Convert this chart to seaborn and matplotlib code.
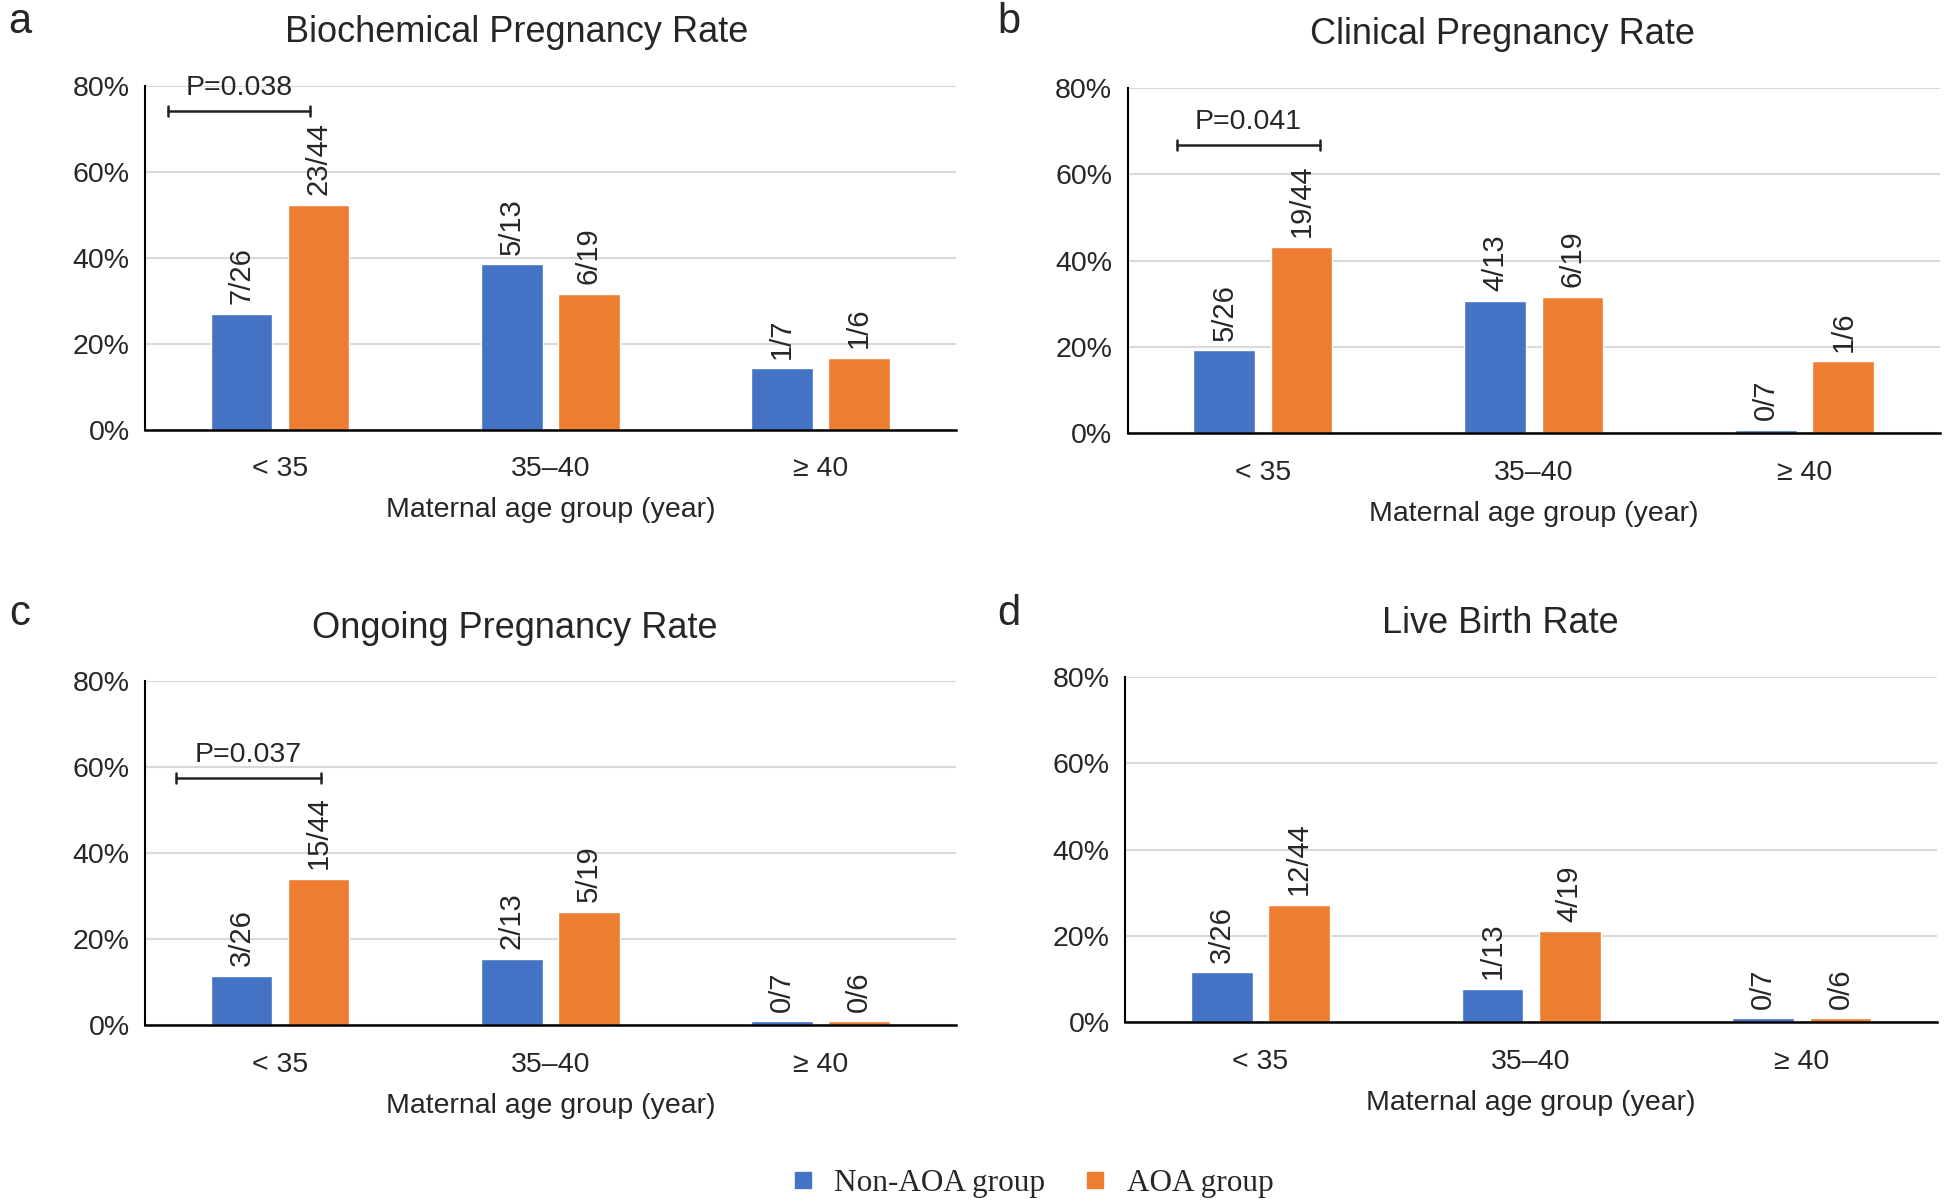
import numpy as np
import pandas as pd
import matplotlib
matplotlib.use("Agg")
import matplotlib.pyplot as plt
import seaborn as sns
from matplotlib.ticker import PercentFormatter
from matplotlib.lines import Line2D

# data: counts
ages = ['< 35', '35\u201340', '\u2265 40']
groups = ['Non-AOA group', 'AOA group']
titles = ['Biochemical Pregnancy Rate', 'Clinical Pregnancy Rate',
          'Ongoing Pregnancy Rate', 'Live Birth Rate']
letters = ['a', 'b', 'c', 'd']
denom_non = [26, 13, 7]
denom_aoa = [44, 19, 6]
num_non = [[7, 5, 1], [5, 4, 0], [3, 2, 0], [3, 1, 0]]
num_aoa = [[23, 6, 1], [19, 6, 1], [15, 5, 0], [12, 4, 0]]
p_text = ['P=0.038', 'P=0.041', 'P=0.037', None]
p_span = [(-0.415, 0.11), (-0.317, 0.211), (-0.387, 0.152), None]
p_line_y = [0.742, 0.668, 0.576, None]

blue = '#4472C4'
orange = '#ED7D31'

sns.set_style('white')
plt.rcParams['font.family'] = ['Liberation Sans', 'DejaVu Sans']

fig = plt.figure(figsize=(19.44, 12.04), dpi=100)

# axes boxes [left, bottom, width, height] in figure fractions
boxes = [[0.0746, 0.643, 0.417, 0.2857],
         [0.580, 0.640, 0.418, 0.287],
         [0.0746, 0.1485, 0.417, 0.2855],
         [0.5786, 0.151, 0.418, 0.2867]]
title_pos = [(0.266, 0.973), (0.773, 0.971), (0.265, 0.478), (0.772, 0.482)]
letter_pos = [(0.004, 0.982), (0.513, 0.982), (0.005, 0.49), (0.513, 0.49)]

for i in range(4):
    ax = fig.add_axes(boxes[i])
    rows = []
    for j, a in enumerate(ages):
        rows.append([a, groups[0], num_non[i][j], denom_non[j]])
        rows.append([a, groups[1], num_aoa[i][j], denom_aoa[j]])
    df = pd.DataFrame(rows, columns=['age', 'group', 'n', 'd'])
    df['rate'] = df['n'] / df['d']
    # zero rates are drawn as a thin sliver, as in the source
    df['shown'] = df['rate'].clip(lower=0.009)

    sns.barplot(data=df, x='age', y='shown', hue='group', order=ages,
                hue_order=groups, palette=[blue, orange], width=0.57,
                gap=0.2, saturation=1, legend=False, errorbar=None, ax=ax)

    for k, cont in enumerate(ax.containers):
        sub = df[df['group'] == groups[k]]
        labels = [f'{n}/{d}' for n, d in zip(sub['n'], sub['d'])]
        ax.bar_label(cont, labels=labels, rotation=90, padding=7, fontsize=21)

    ax.set_ylim(0, 0.8)
    ax.set_xlim(-0.5, 2.5)
    ax.set_yticks([0, 0.2, 0.4, 0.6, 0.8])
    ax.yaxis.set_major_formatter(PercentFormatter(1.0, decimals=0))
    ax.grid(axis='y', color='#d9d9d9', lw=1.5)
    ax.set_axisbelow(True)
    for s in ['top', 'right']:
        ax.spines[s].set_visible(False)
    ax.spines['left'].set_color('black')
    ax.spines['bottom'].set_color('black')
    ax.spines['left'].set_linewidth(1.5)
    ax.spines['bottom'].set_linewidth(1.8)
    ax.tick_params(axis='y', length=6, width=1.2, color='black', labelsize=20.5, pad=5)
    ax.tick_params(axis='x', length=0, labelsize=20.5, pad=19)
    ax.set_xlabel('Maternal age group (year)', fontsize=20.5, labelpad=11)
    ax.set_ylabel('')

    if p_text[i] is not None:
        x0, x1 = p_span[i]
        yl = p_line_y[i]
        ax.plot([x0, x1], [yl, yl], color='#222222', lw=1.8)
        ax.plot([x0, x0], [yl - 0.012, yl + 0.012], color='#222222', lw=1.8)
        ax.plot([x1, x1], [yl - 0.012, yl + 0.012], color='#222222', lw=1.8)
        ax.text((x0 + x1) / 2, yl + 0.022, p_text[i], ha='center', va='bottom',
                fontsize=20.5)

    fig.text(title_pos[i][0], title_pos[i][1], titles[i], ha='center',
             va='center', fontsize=26)
    fig.text(letter_pos[i][0], letter_pos[i][1], letters[i], ha='left',
             va='center', fontsize=30)

handles = [Line2D([], [], marker='s', ls='', color=blue, markersize=12),
           Line2D([], [], marker='s', ls='', color=orange, markersize=12)]
fig.legend(handles, groups, loc='center', bbox_to_anchor=(0.530, 0.017),
           ncol=2, frameon=False, prop={'family': 'Liberation Serif', 'size': 22.5},
           handletextpad=0.5, columnspacing=1.1, handlelength=1.0)

fig.savefig('out.png', dpi=100)
